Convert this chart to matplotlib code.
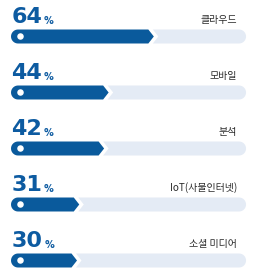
import matplotlib
matplotlib.use("Agg")
import matplotlib.pyplot as plt
from matplotlib.patches import Polygon, Ellipse
import numpy as np

values = [64, 44, 42, 31, 30]
labels = ["클라우드", "모바일", "분석", "IoT(사물인터넷)", "소셜 미디어"]
value_text = ["64", "44", "42", "31", "30"]

DARK = "#0a5a9c"
LIGHT = "#e4ebf5"
NUM = "#0d5ba1"
LAB = "#2b2b2b"

W, H = 256, 277
fig = plt.figure(figsize=(W / 100, H / 100), dpi=100)
ax = fig.add_axes([0, 0, 1, 1])
ax.axis("off")

sx = 2.26          # px per percent
x0px = 9.2         # px position of 0 %
row_px = 56.0
first_px = 36.5
xlim = (-x0px / sx, (W - x0px) / sx)
ylim = ((H - first_px) / row_px, -first_px / row_px)
ax.set_xlim(*xlim)
ax.set_ylim(*ylim)

def dx(p):
    return p / sx

def dy(p):
    return p / row_px

track_end = 104.8
half = 7.0  # px half height
r = 7.0

for i, (v, lab, vt) in enumerate(zip(values, labels, value_text)):
    y = i
    # dark bar: rounded left, arrow tip right
    left = 0.8
    cx = left + dx(r)
    pts = []
    for a in np.linspace(np.pi / 2, 3 * np.pi / 2, 20):
        pts.append((cx + dx(r * np.cos(a)), y - dy(r * np.sin(a))))
    tip = v
    depth = 5.5
    pts += [(tip - dx(depth), y + dy(half)), (tip, y), (tip - dx(depth), y - dy(half))]
    ax.add_patch(Polygon(pts, closed=True, fc=DARK, ec="none", zorder=3))
    # light track with chevron notch
    gap = 4.5
    ls = tip + dx(gap)
    tend = track_end
    tr = []
    tr.append((ls - dx(depth), y - dy(half)))
    ecx = tend - dx(r)
    for a in np.linspace(np.pi / 2, -np.pi / 2, 20):
        tr.append((ecx + dx(r * np.cos(a)), y - dy(r * np.sin(a))))
    tr.append((ls - dx(depth), y + dy(half)))
    tr.append((ls, y))
    ax.add_patch(Polygon(tr, closed=True, fc=LIGHT, ec="none", zorder=2))
    # white dot
    ax.add_patch(Ellipse((left + dx(9.5), y), dx(6.5), dy(6.5), fc="white", ec="none", zorder=4))
    # number
    t = ax.text(left + dx(0.5), y - dy(13.5), vt, fontsize=16, fontweight="bold",
                color=NUM, family="DejaVu Sans", ha="left", va="baseline", zorder=5)
    ax.annotate("%", xy=(1, 0), xycoords=t, xytext=(1.2, 0.8), textcoords="offset points",
                fontsize=7, fontweight="bold", color=NUM, family="DejaVu Sans",
                ha="left", va="bottom")
    ax.text(track_end - dx(9), y - dy(14), lab, fontsize=7.2, color=LAB,
            family=["Noto Sans CJK KR", "DejaVu Sans"], ha="right", va="baseline", zorder=5)

fig.savefig("out.png", dpi=100)
